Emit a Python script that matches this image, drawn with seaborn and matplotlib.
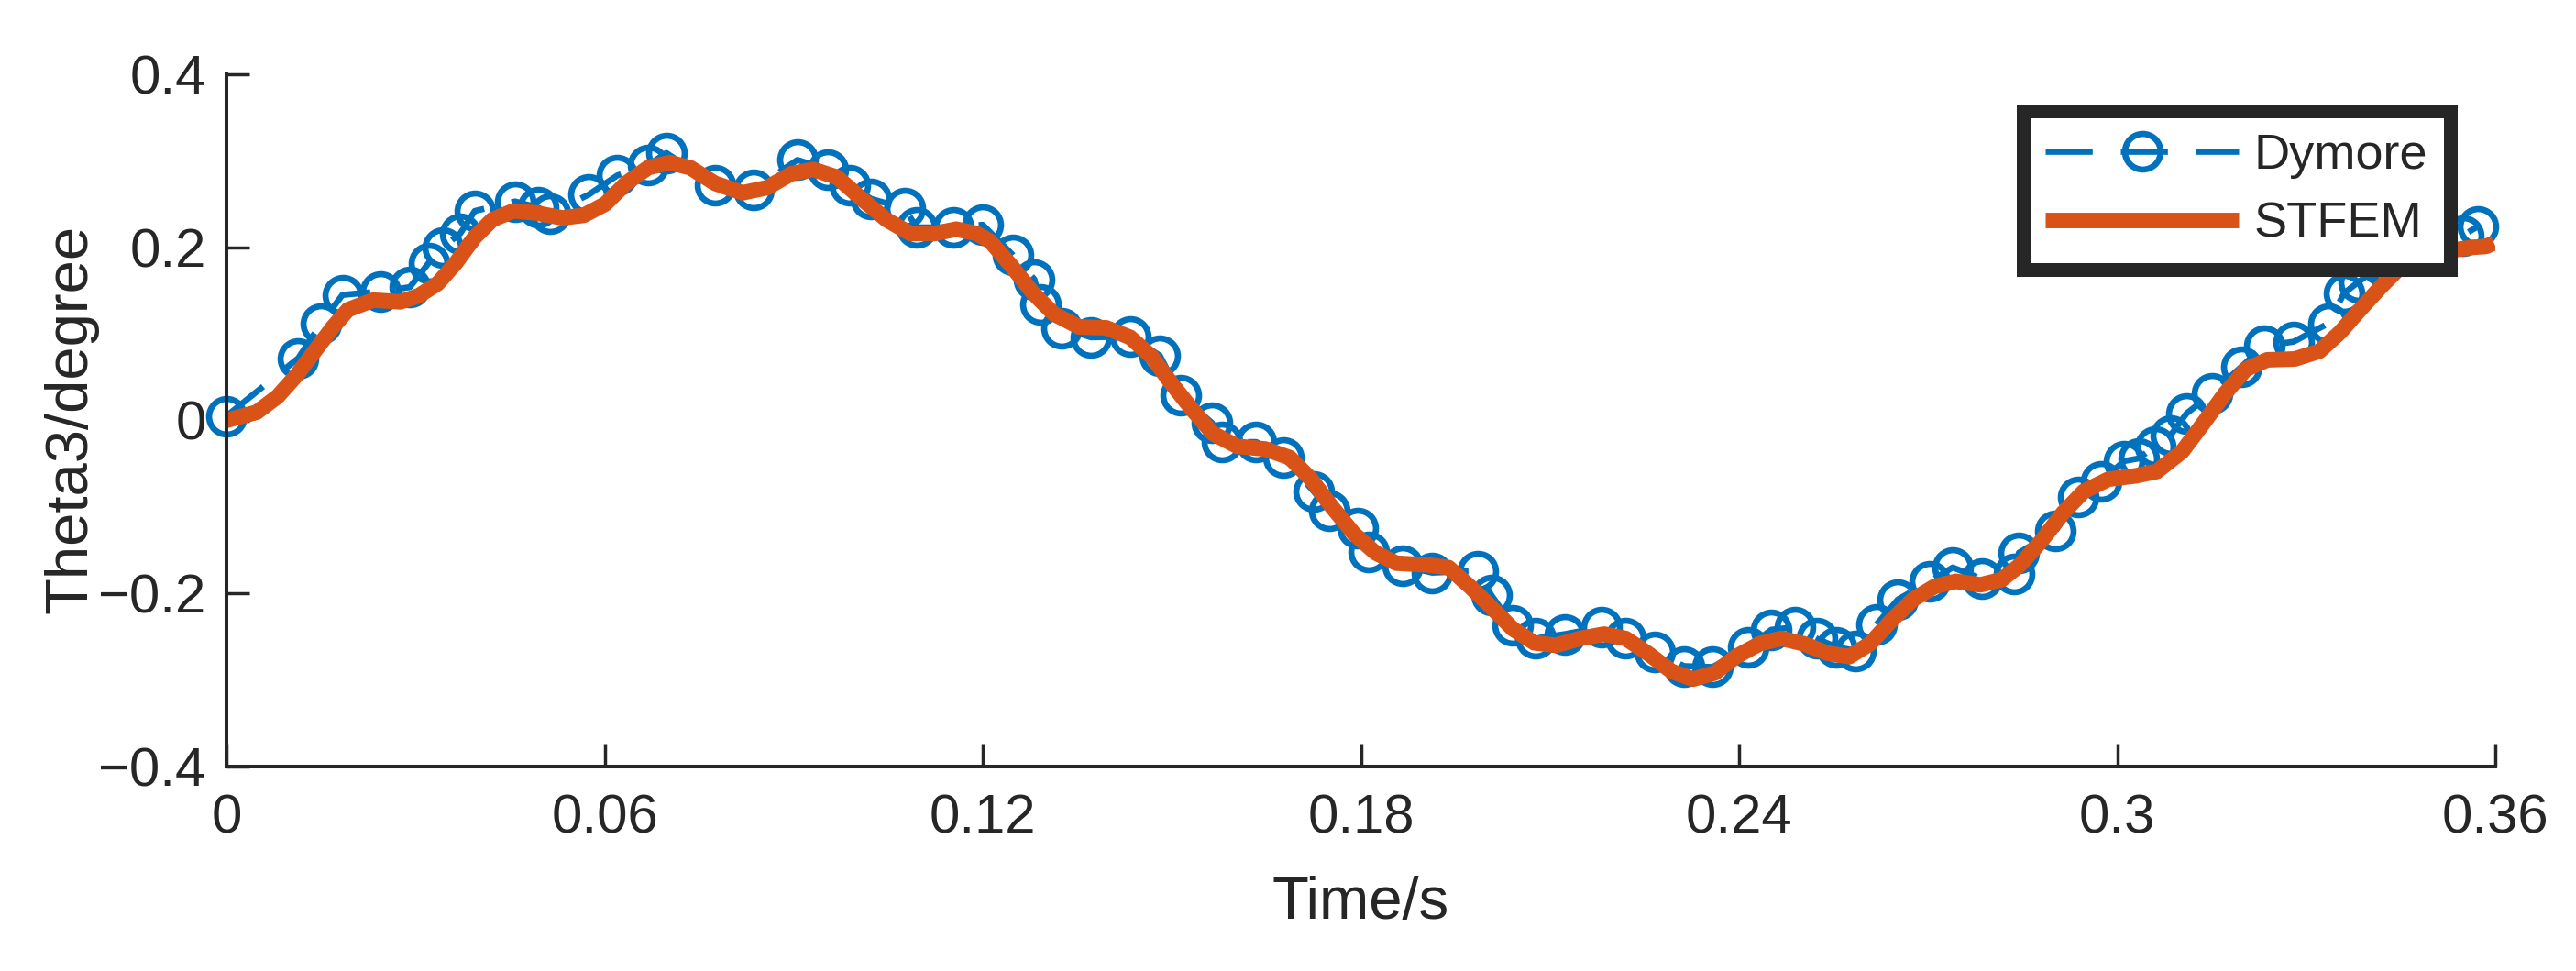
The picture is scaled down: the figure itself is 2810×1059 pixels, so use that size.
import matplotlib
matplotlib.use("Agg")
import matplotlib.pyplot as plt
import seaborn as sns
import pandas as pd

# Dymore 参考解 (圆圈标记)
dymore_t = [0.0000, 0.0114, 0.0150, 0.0184, 0.0244, 0.0291, 0.0321, 0.0343, 0.0371, 0.0394,
            0.0458, 0.0494, 0.0514, 0.0575, 0.0620, 0.0669, 0.0698, 0.0775, 0.0836, 0.0906,
            0.0954, 0.0989, 0.1023, 0.1076, 0.1095, 0.1153, 0.1200, 0.1248, 0.1282, 0.1292,
            0.1325, 0.1372, 0.1434, 0.1481, 0.1514, 0.1564, 0.1580, 0.1634, 0.1677, 0.1725,
            0.1750, 0.1795, 0.1812, 0.1866, 0.1913, 0.1985, 0.2007, 0.2041, 0.2077, 0.2124,
            0.2182, 0.2220, 0.2266, 0.2313, 0.2358, 0.2415, 0.2451, 0.2489, 0.2523, 0.2554,
            0.2584, 0.2618, 0.2652, 0.2703, 0.2739, 0.2785, 0.2836, 0.2844, 0.2902, 0.2938,
            0.2975, 0.3011, 0.3034, 0.3060, 0.3085, 0.3110, 0.3150, 0.3197, 0.3233, 0.3280,
            0.3335, 0.3360, 0.3383, 0.3420, 0.3460, 0.3500, 0.3549, 0.3572]
dymore_theta = [0.005, 0.072, 0.112, 0.145, 0.149, 0.154, 0.182, 0.200, 0.216, 0.242,
                0.253, 0.246, 0.239, 0.261, 0.283, 0.295, 0.309, 0.272, 0.267, 0.301,
                0.290, 0.272, 0.256, 0.245, 0.223, 0.223, 0.226, 0.191, 0.163, 0.134,
                0.107, 0.096, 0.097, 0.075, 0.029, -0.003, -0.025, -0.025, -0.043, -0.082,
                -0.104, -0.125, -0.152, -0.168, -0.176, -0.174, -0.202, -0.237, -0.252, -0.247,
                -0.239, -0.252, -0.268, -0.284, -0.285, -0.262, -0.242, -0.239, -0.252, -0.262,
                -0.266, -0.236, -0.207, -0.186, -0.170, -0.183, -0.178, -0.153, -0.128, -0.089,
                -0.070, -0.047, -0.044, -0.030, -0.017, 0.008, 0.031, 0.062, 0.086, 0.091,
                0.112, 0.147, 0.160, 0.180, 0.195, 0.205, 0.214, 0.224]

# STFEM 结果 (粗实线)
stfem_t = [0.0000, 0.0048, 0.0081, 0.0111, 0.0140, 0.0169, 0.0193, 0.0233, 0.0276, 0.0305,
           0.0335, 0.0364, 0.0393, 0.0422, 0.0455, 0.0489, 0.0533, 0.0567, 0.0601, 0.0634,
           0.0669, 0.0703, 0.0736, 0.0775, 0.0819, 0.0858, 0.0896, 0.0931, 0.0969, 0.1008,
           0.1047, 0.1085, 0.1124, 0.1158, 0.1190, 0.1212, 0.1245, 0.1280, 0.1313, 0.1353,
           0.1396, 0.1434, 0.1469, 0.1498, 0.1532, 0.1565, 0.1604, 0.1648, 0.1687, 0.1721,
           0.1754, 0.1789, 0.1823, 0.1856, 0.1905, 0.1939, 0.1973, 0.2007, 0.2041, 0.2075,
           0.2109, 0.2148, 0.2186, 0.2220, 0.2255, 0.2293, 0.2327, 0.2361, 0.2395, 0.2433,
           0.2467, 0.2502, 0.2540, 0.2575, 0.2608, 0.2642, 0.2676, 0.2710, 0.2744, 0.2783,
           0.2817, 0.2846, 0.2880, 0.2914, 0.2947, 0.2986, 0.3030, 0.3063, 0.3103, 0.3136,
           0.3171, 0.3204, 0.3238, 0.3282, 0.3321, 0.3354, 0.3383, 0.3418, 0.3452, 0.3495,
           0.3535, 0.3564, 0.3585, 0.3598]
stfem_theta = [0.000, 0.0095, 0.0275, 0.052, 0.080, 0.108, 0.128, 0.139, 0.137, 0.144,
               0.158, 0.182, 0.211, 0.232, 0.242, 0.240, 0.234, 0.237, 0.250, 0.274,
               0.292, 0.298, 0.292, 0.274, 0.263, 0.269, 0.285, 0.290, 0.281, 0.256,
               0.232, 0.216, 0.216, 0.221, 0.216, 0.207, 0.179, 0.147, 0.123, 0.108,
               0.107, 0.096, 0.073, 0.044, 0.013, -0.015, -0.030, -0.033, -0.043, -0.068,
               -0.100, -0.131, -0.153, -0.165, -0.167, -0.170, -0.192, -0.216, -0.241, -0.257,
               -0.260, -0.252, -0.247, -0.252, -0.269, -0.290, -0.299, -0.292, -0.273, -0.258,
               -0.252, -0.258, -0.269, -0.273, -0.258, -0.231, -0.207, -0.192, -0.186, -0.190,
               -0.184, -0.167, -0.139, -0.107, -0.082, -0.068, -0.064, -0.059, -0.036, -0.004,
               0.031, 0.059, 0.070, 0.071, 0.080, 0.102, 0.126, 0.154, 0.179, 0.195,
               0.197, 0.200, 0.201, 0.205]

x_ticks = [0, 0.06, 0.12, 0.18, 0.24, 0.3, 0.36]
x_tick_labels = ["0", "0.06", "0.12", "0.18", "0.24", "0.3", "0.36"]
y_ticks = [-0.4, -0.2, 0, 0.2, 0.4]
y_tick_labels = ["\u22120.4", "\u22120.2", "0", "0.2", "0.4"]

BLUE = "#0072BD"
ORANGE = "#D95319"
AX_COLOR = "#262626"

sns.set_style("ticks")
plt.rcParams['font.family'] = ['Liberation Sans', 'DejaVu Sans']

W, H = 2810, 1059
fig = plt.figure(figsize=(W / 100, H / 100), dpi=100)
ax = fig.add_axes([247 / W, 1 - 836 / H, 2475 / W, 755 / H])

df_d = pd.DataFrame({"t": dymore_t, "theta": dymore_theta})
df_s = pd.DataFrame({"t": stfem_t, "theta": stfem_theta})

sns.lineplot(data=df_d, x="t", y="theta", ax=ax, color=BLUE, linewidth=4.8,
             linestyle=(0, (7.7, 4.6)), marker="o", markersize=28,
             markerfacecolor="none", markeredgecolor=BLUE, markeredgewidth=4.8,
             estimator=None, sort=False, label="Dymore", clip_on=False)
sns.lineplot(data=df_s, x="t", y="theta", ax=ax, color=ORANGE, linewidth=12.2,
             solid_capstyle="butt", estimator=None, sort=False, label="STFEM")

ax.set_xlim(0, 0.36)
ax.set_ylim(-0.4, 0.4)
ax.set_xticks(x_ticks)
ax.set_xticklabels(x_tick_labels)
ax.set_yticks(y_ticks)
ax.set_yticklabels(y_tick_labels)

for side in ["top", "right"]:
    ax.spines[side].set_visible(False)
for side in ["left", "bottom"]:
    ax.spines[side].set_linewidth(2.9)
    ax.spines[side].set_color(AX_COLOR)

ax.tick_params(direction="in", length=18, width=2.5, colors=AX_COLOR, labelsize=43)
ax.tick_params(axis="x", pad=21)
ax.tick_params(axis="y", pad=16)

ax.set_xlabel("Time/s", fontsize=47, color=AX_COLOR)
ax.set_ylabel("Theta3/degree", fontsize=47, color=AX_COLOR)
ax.xaxis.set_label_coords(0.5, -0.1576)
ax.yaxis.set_label_coords(-0.0562, 0.502)

leg = ax.legend(loc="upper right", bbox_to_anchor=(0.98, 0.947), borderaxespad=0,
                fontsize=39, frameon=True, fancybox=False, edgecolor=AX_COLOR,
                framealpha=1, handlelength=3.9, handletextpad=0.3, borderpad=0.45,
                labelspacing=0.45, numpoints=1)
leg.get_frame().set_linewidth(10.8)

fig.savefig("out.png", dpi=100)
